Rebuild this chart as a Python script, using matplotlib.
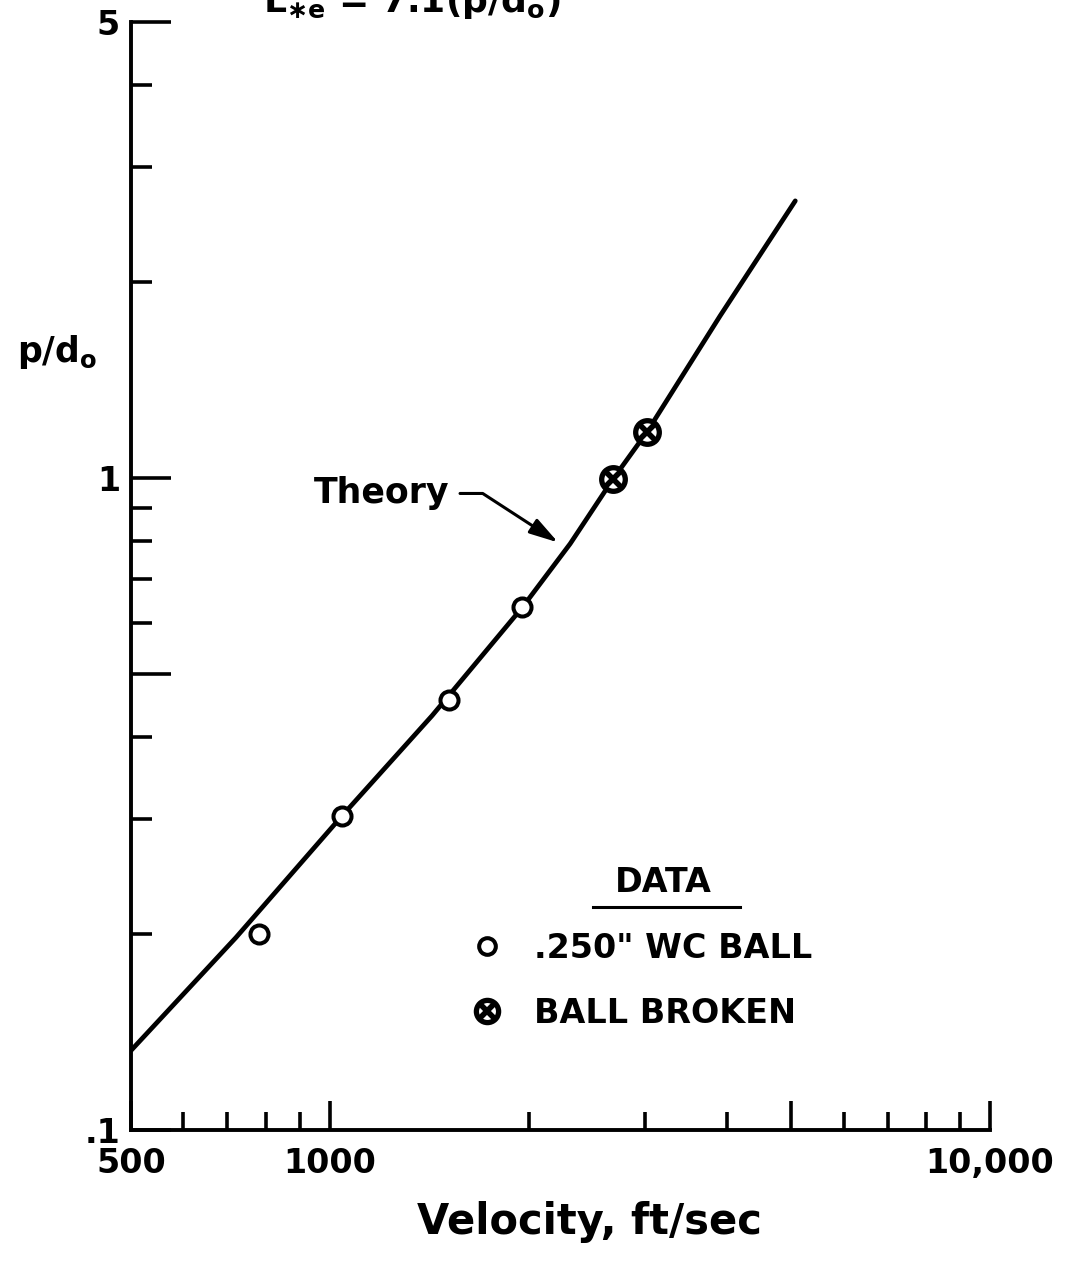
import matplotlib
matplotlib.use("Agg")
import matplotlib.pyplot as plt
from matplotlib.lines import Line2D
from matplotlib.ticker import FixedLocator, FixedFormatter, NullFormatter

# データ
velocity_ball = [782, 1044, 1516, 1957]
pd_ball = [0.200, 0.303, 0.457, 0.633]
velocity_broken = [2687, 3025]
pd_broken = [0.997, 1.177]

theory_velocity = [500, 721, 1044, 1429, 1957, 2313, 2687, 3025, 3902, 5071]
theory_pd = [0.1324, 0.1973, 0.3033, 0.4319, 0.6328, 0.7925, 0.9965, 1.177, 1.772, 2.659]

# 目盛り
x_major = [500, 1000, 5000, 10000]
x_major_labels = ["500", "1000", "", "10,000"]
x_minor = [600, 700, 800, 900, 2000, 3000, 4000, 6000, 7000, 8000, 9000]
y_major = [0.1, 0.5, 1, 5]
y_major_labels = [".1", "", "1", "5"]
y_minor = [0.2, 0.3, 0.4, 0.6, 0.7, 0.8, 0.9, 2, 3, 4]

# 矢印の先（Theory）
theory_tip = (2218, 0.796)

plt.rcParams["font.family"] = ["DejaVu Sans"]
plt.rcParams["font.weight"] = "bold"
plt.rcParams["mathtext.default"] = "bf"

W, H = 1082, 1272
fig = plt.figure(figsize=(W / 100, H / 100), dpi=100)
ax = fig.add_axes([131 / W, 1 - 1130 / H, (990 - 131) / W, (1130 - 22) / H])

ax.set_xscale("log")
ax.set_yscale("log")
ax.set_xlim(500, 10000)
ax.set_ylim(0.1, 5)

for s in ["top", "right"]:
    ax.spines[s].set_visible(False)
for s in ["left", "bottom"]:
    ax.spines[s].set_linewidth(2.8)

# 理論曲線
ax.plot(theory_velocity, theory_pd, color="k", lw=3.4, solid_capstyle="round",
        solid_joinstyle="round", zorder=2)

# データ点
ax.plot(velocity_ball, pd_ball, ls="none", marker="o", ms=13, mew=2.9,
        mfc="white", mec="k", zorder=3)
ax.plot(velocity_broken, pd_broken, ls="none", marker="o", ms=17, mew=3.8,
        mfc="white", mec="k", zorder=3)
ax.plot(velocity_broken, pd_broken, ls="none", marker="x", ms=12, mew=4.0,
        mec="k", zorder=4)

# 軸目盛り
ax.xaxis.set_major_locator(FixedLocator(x_major))
ax.xaxis.set_major_formatter(FixedFormatter(x_major_labels))
ax.xaxis.set_minor_locator(FixedLocator(x_minor))
ax.xaxis.set_minor_formatter(NullFormatter())
ax.yaxis.set_major_locator(FixedLocator(y_major))
ax.yaxis.set_major_formatter(FixedFormatter(y_major_labels))
ax.yaxis.set_minor_locator(FixedLocator(y_minor))
ax.yaxis.set_minor_formatter(NullFormatter())

ax.tick_params(axis="both", which="both", direction="in", width=2.6, labelsize=24)
ax.tick_params(axis="x", which="major", length=21, pad=12)
ax.tick_params(axis="x", which="minor", length=13)
ax.tick_params(axis="y", which="major", length=29, pad=8)
ax.tick_params(axis="y", which="minor", length=15)

# Theory の注記
ax.annotate("Theory", xy=theory_tip, xytext=(-177, 49), textcoords="offset pixels",
            ha="center", va="center", fontsize=25,
            arrowprops=dict(arrowstyle="-|>,head_length=0.7,head_width=0.2", color="k", lw=2.2,
                            relpos=(1.0, 0.5), shrinkA=6, shrinkB=0,
                            connectionstyle="angle,angleA=0,angleB=147,rad=0"))

# 凡例
h_ball = Line2D([], [], ls="none", marker="o", ms=12, mew=2.9, mfc="white", mec="k")
h_broken_o = Line2D([], [], ls="none", marker="o", ms=16, mew=3.8, mfc="white", mec="k")
h_broken_x = Line2D([], [], ls="none", marker="x", ms=11, mew=4.0, mec="k")
leg = ax.legend([h_ball, (h_broken_o, h_broken_x)], ['.250" WC BALL', "BALL BROKEN"],
                loc="center left", bbox_to_anchor=(470 / W, 1 - 981 / H),
                bbox_transform=fig.transFigure, frameon=False, fontsize=24,
                handlelength=1.0, handletextpad=0.93, labelspacing=0.96,
                borderpad=0, borderaxespad=0)

fig.text(663 / W, 1 - 883 / H, "DATA", ha="center", va="center", fontsize=24)
fig.add_artist(Line2D([593 / W, 740 / W], [1 - 907 / H, 1 - 907 / H], color="k", lw=2.2))

# ラベル
fig.text(57 / W, 1 - 352 / H, r"p/d$_o$", ha="center", va="center", fontsize=25)
fig.text(589 / W, 1 - 1222 / H, "Velocity, ft/sec", ha="center", va="center", fontsize=30)
fig.text(412 / W, 1 - 12 / H, r"L$_{\ast e}$ = 7.1(p/d$_o$)", ha="center", va="baseline",
         fontsize=26)

fig.savefig("out.png", dpi=100)
